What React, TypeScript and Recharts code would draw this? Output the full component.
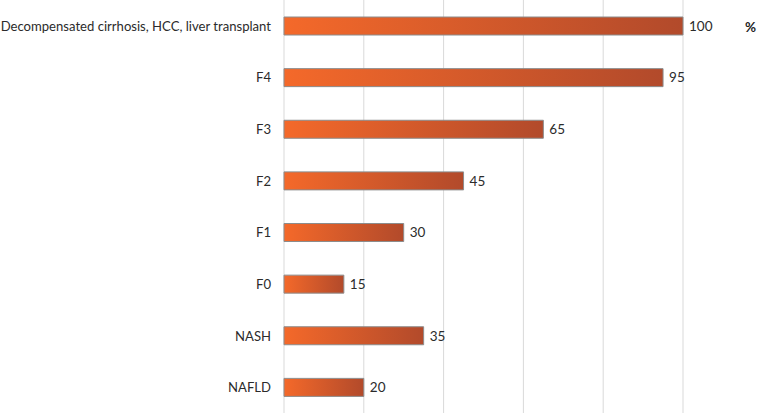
import React from "react";
import { BarChart, Bar, XAxis, YAxis, CartesianGrid, LabelList } from "recharts";

const categories = [
  "Decompensated cirrhosis, HCC, liver transplant",
  "F4",
  "F3",
  "F2",
  "F1",
  "F0",
  "NASH",
  "NAFLD",
];
const values = [100, 95, 65, 45, 30, 15, 35, 20];
const xTicks = [0, 20, 40, 60, 80, 100];

const data = categories.map((c, i) => ({ name: c, value: values[i] }));

const FONT = "Lato, 'Open Sans', sans-serif";

const CatTick = (props: any) => {
  const { x, y, payload } = props;
  return (
    <text
      x={x}
      y={y}
      dy={5}
      textAnchor="end"
      fill="#2b2b2b"
      fontSize={13.1}
      fontFamily={FONT}
    >
      {payload.value}
    </text>
  );
};

export default function App() {
  return (
    <div style={{ position: "absolute", left: 0, top: 0, width: 760, height: 416, background: "#fff" }}>
      <BarChart
        width={760}
        height={416}
        data={data}
        layout="vertical"
        margin={{ top: 0, right: 77, bottom: 3, left: 0 }}
        barCategoryGap={0}
      >
        <defs>
          <linearGradient id="barGrad" x1="0" y1="0" x2="1" y2="0">
            <stop offset="0%" stopColor="#F4692A" />
            <stop offset="100%" stopColor="#B24A2B" />
          </linearGradient>
        </defs>
        <CartesianGrid horizontal={false} stroke="#d9d9d9" strokeWidth={1} />
        <XAxis type="number" domain={[0, 100]} ticks={xTicks} hide />
        <YAxis
          type="category"
          dataKey="name"
          width={284}
          axisLine={false}
          tickLine={false}
          tickSize={0}
          tickMargin={13}
          interval={0}
          tick={<CatTick />}
        />
        <Bar
          dataKey="value"
          fill="url(#barGrad)"
          stroke="#8c8c8c"
          strokeWidth={1}
          barSize={18}
          isAnimationActive={false}
        >
          <LabelList
            dataKey="value"
            position="right"
            offset={6}
            style={{ fill: "#2b2b2b", fontSize: 13.5, fontFamily: FONT }}
          />
        </Bar>
      </BarChart>
      <div
        style={{
          position: "absolute",
          left: 745,
          top: 19,
          fontFamily: FONT,
          fontSize: 13.5,
          fontWeight: 700,
          color: "#222",
          lineHeight: "16px",
        }}
      >
        %
      </div>
    </div>
  );
}
